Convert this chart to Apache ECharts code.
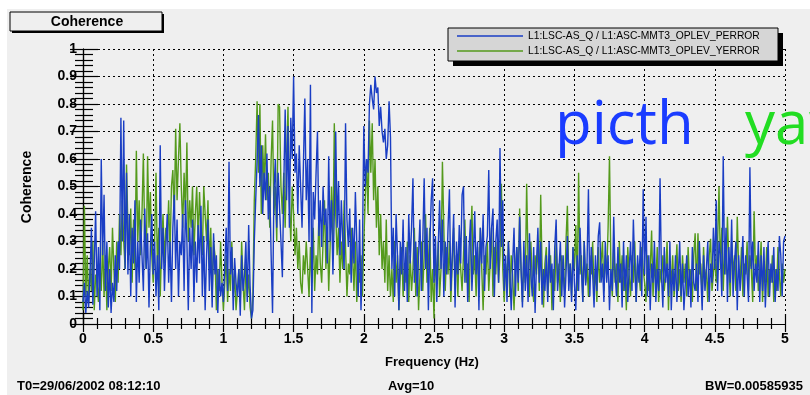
<!DOCTYPE html>
<html>
<head>
<meta charset="utf-8">
<script src="https://cdn.jsdelivr.net/npm/echarts@6/dist/echarts.min.js"></script>
<style>
  html, body { margin: 0; padding: 0; background: #fff; }
  #chart { width: 810px; height: 395px; }
</style>
</head>
<body>
<div id="chart"></div>
<script>
// frequency step of the samples (Hz), x runs 0 .. 5
const freqStep = 0.01;

// coherence LSC-AS_Q / OPLEV_PERROR (blue), one row = 0.1 Hz
const pitchCoh = [
  0.08, 0.15, 0.04, 0.12, 0.06, 0.18, 0.35, 0.07, 0.22, 0.41,
  0.10, 0.28, 0.05, 0.60, 0.25, 0.47, 0.12, 0.30, 0.06, 0.20,
  0.04, 0.15, 0.08, 0.25, 0.12, 0.30, 0.20, 0.75, 0.30, 0.74,
  0.20, 0.55, 0.18, 0.40, 0.10, 0.35, 0.22, 0.45, 0.08, 0.30,
  0.15, 0.38, 0.25, 0.12, 0.42, 0.20, 0.33, 0.06, 0.28, 0.40,
  0.18, 0.30, 0.10, 0.25, 0.05, 0.65, 0.20, 0.35, 0.12, 0.28,
  0.40, 0.15, 0.30, 0.08, 0.35, 0.47, 0.20, 0.38, 0.10, 0.30,
  0.25, 0.40, 0.12, 0.45, 0.30, 0.05, 0.35, 0.20, 0.38, 0.08,
  0.30, 0.15, 0.36, 0.22, 0.43, 0.10, 0.32, 0.05, 0.25, 0.38,
  0.12, 0.28, 0.06, 0.33, 0.18, 0.25, 0.04, 0.20, 0.10, 0.15,
  0.08, 0.22, 0.35, 0.12, 0.59, 0.18, 0.28, 0.05, 0.24, 0.15,
  0.10, 0.20, 0.03, 0.25, 0.12, 0.18, 0.30, 0.08, 0.36, 0.14,
  0.02, 0.05, 0.30, 0.45, 0.59, 0.76, 0.50, 0.65, 0.40, 0.55,
  0.45, 0.62, 0.38, 0.50, 0.25, 0.04, 0.48, 0.60, 0.35, 0.55,
  0.42, 0.30, 0.17, 0.50, 0.78, 0.45, 0.72, 0.35, 0.75, 0.60,
  0.90, 0.55, 0.62, 0.40, 0.65, 0.50, 0.35, 0.58, 0.82, 0.45,
  0.60, 0.30, 0.87, 0.04, 0.48, 0.38, 0.55, 0.70, 0.32, 0.45,
  0.28, 0.50, 0.36, 0.42, 0.22, 0.61, 0.30, 0.45, 0.18, 0.40,
  0.70, 0.35, 0.52, 0.25, 0.45, 0.30, 0.20, 0.73, 0.38, 0.28,
  0.42, 0.15, 0.35, 0.22, 0.48, 0.30, 0.10, 0.38, 0.05, 0.25,
  0.72, 0.50, 0.60, 0.55, 0.80, 0.87, 0.82, 0.78, 0.90, 0.84,
  0.86, 0.72, 0.79, 0.70, 0.66, 0.71, 0.60, 0.65, 0.81, 0.68,
  0.20, 0.35, 0.10, 0.40, 0.25, 0.05, 0.30, 0.18, 0.38, 0.12,
  0.28, 0.08, 0.40, 0.22, 0.35, 0.53, 0.15, 0.30, 0.10, 0.25,
  0.38, 0.12, 0.30, 0.53, 0.20, 0.35, 0.05, 0.28, 0.45, 0.53,
  0.15, 0.32, 0.08, 0.28, 0.45, 0.20, 0.38, 0.10, 0.30, 0.18,
  0.35, 0.49, 0.12, 0.25, 0.40, 0.06, 0.30, 0.18, 0.36, 0.22,
  0.47, 0.50, 0.15, 0.32, 0.08, 0.28, 0.38, 0.12, 0.25, 0.41,
  0.18, 0.30, 0.05, 0.35, 0.22, 0.40, 0.12, 0.28, 0.32, 0.56,
  0.20, 0.35, 0.42, 0.10, 0.30, 0.38, 0.15, 0.64, 0.28, 0.45,
  0.12, 0.25, 0.08, 0.30, 0.18, 0.05, 0.22, 0.35, 0.10, 0.28,
  0.15, 0.39, 0.20, 0.06, 0.30, 0.12, 0.25, 0.08, 0.33, 0.18,
  0.10, 0.28, 0.04, 0.22, 0.35, 0.15, 0.30, 0.07, 0.20, 0.12,
  0.25, 0.08, 0.30, 0.15, 0.22, 0.05, 0.28, 0.38, 0.12, 0.20,
  0.30, 0.10, 0.25, 0.06, 0.18, 0.32, 0.12, 0.22, 0.08, 0.28,
  0.15, 0.05, 0.25, 0.12, 0.35, 0.20, 0.08, 0.30, 0.14, 0.22,
  0.49, 0.10, 0.28, 0.18, 0.06, 0.25, 0.12, 0.32, 0.37, 0.15,
  0.22, 0.08, 0.30, 0.15, 0.25, 0.05, 0.20, 0.12, 0.39, 0.18,
  0.10, 0.28, 0.15, 0.22, 0.06, 0.30, 0.12, 0.25, 0.08, 0.20,
  0.30, 0.12, 0.38, 0.20, 0.08, 0.25, 0.15, 0.30, 0.10, 0.49,
  0.18, 0.39, 0.10, 0.25, 0.05, 0.22, 0.15, 0.30, 0.08, 0.20,
  0.12, 0.53, 0.18, 0.06, 0.28, 0.15, 0.22, 0.10, 0.30, 0.05,
  0.20, 0.12, 0.25, 0.08, 0.18, 0.30, 0.10, 0.22, 0.05, 0.15,
  0.25, 0.10, 0.20, 0.06, 0.28, 0.15, 0.12, 0.22, 0.08, 0.30,
  0.18, 0.05, 0.25, 0.12, 0.20, 0.30, 0.08, 0.22, 0.15, 0.35,
  0.20, 0.45, 0.12, 0.30, 0.25, 0.10, 0.61, 0.18, 0.35, 0.08,
  0.28, 0.15, 0.38, 0.10, 0.22, 0.30, 0.05, 0.25, 0.12, 0.20,
  0.32, 0.10, 0.25, 0.18, 0.08, 0.57, 0.20, 0.30, 0.12, 0.22,
  0.15, 0.30, 0.08, 0.25, 0.12, 0.28, 0.06, 0.20, 0.30, 0.10,
  0.22, 0.15, 0.28, 0.08, 0.20, 0.12, 0.32, 0.25, 0.10, 0.30,
  0.32
];

// coherence LSC-AS_Q / OPLEV_YERROR (green)
const yawCoh = [
  0.05, 0.43, 0.10, 0.25, 0.08, 0.20, 0.12, 0.30, 0.05, 0.18,
  0.15, 0.08, 0.22, 0.12, 0.30, 0.10, 0.25, 0.05, 0.20, 0.28,
  0.12, 0.35, 0.20, 0.08, 0.30, 0.15, 0.40, 0.25, 0.45, 0.30,
  0.20, 0.58, 0.35, 0.25, 0.42, 0.15, 0.38, 0.20, 0.63, 0.30,
  0.45, 0.25, 0.40, 0.62, 0.30, 0.20, 0.61, 0.35, 0.48, 0.25,
  0.15, 0.30, 0.55, 0.20, 0.35, 0.10, 0.28, 0.40, 0.22, 0.35,
  0.30, 0.45, 0.25, 0.50, 0.56, 0.38, 0.71, 0.45, 0.60, 0.73,
  0.50, 0.35, 0.55, 0.40, 0.66, 0.30, 0.45, 0.35, 0.50, 0.25,
  0.40, 0.50, 0.30, 0.48, 0.35, 0.25, 0.50, 0.40, 0.30, 0.45,
  0.20, 0.35, 0.10, 0.30, 0.25, 0.05, 0.20, 0.12, 0.30, 0.15,
  0.05, 0.15, 0.25, 0.08, 0.20, 0.12, 0.30, 0.10, 0.18, 0.05,
  0.12, 0.20, 0.08, 0.30, 0.15, 0.05, 0.22, 0.10, 0.18, 0.06,
  0.02, 0.10, 0.45, 0.60, 0.81, 0.55, 0.80, 0.40, 0.65, 0.50,
  0.69, 0.45, 0.55, 0.35, 0.60, 0.74, 0.40, 0.50, 0.30, 0.80,
  0.79, 0.50, 0.40, 0.55, 0.35, 0.60, 0.79, 0.45, 0.30, 0.50,
  0.40, 0.25, 0.35, 0.20, 0.30, 0.15, 0.11, 0.25, 0.18, 0.30,
  0.20, 0.10, 0.28, 0.15, 0.35, 0.12, 0.25, 0.18, 0.40, 0.22,
  0.15, 0.30, 0.45, 0.20, 0.35, 0.12, 0.28, 0.50, 0.30, 0.73,
  0.40, 0.25, 0.35, 0.15, 0.30, 0.20, 0.45, 0.28, 0.10, 0.22,
  0.18, 0.35, 0.25, 0.12, 0.30, 0.08, 0.20, 0.15, 0.25, 0.10,
  0.30, 0.45, 0.60, 0.40, 0.74, 0.55, 0.73, 0.45, 0.60, 0.35,
  0.50, 0.25, 0.40, 0.20, 0.30, 0.15, 0.38, 0.12, 0.25, 0.10,
  0.20, 0.08, 0.30, 0.15, 0.25, 0.05, 0.18, 0.28, 0.10, 0.22,
  0.15, 0.30, 0.08, 0.25, 0.12, 0.20, 0.35, 0.10, 0.28, 0.05,
  0.18, 0.30, 0.12, 0.25, 0.40, 0.15, 0.22, 0.35, 0.08, 0.20,
  0.02, 0.25, 0.15, 0.30, 0.10, 0.20, 0.59, 0.35, 0.12, 0.28,
  0.18, 0.30, 0.08, 0.22, 0.35, 0.15, 0.25, 0.10, 0.30, 0.20,
  0.12, 0.25, 0.38, 0.15, 0.22, 0.08, 0.30, 0.43, 0.18, 0.25,
  0.10, 0.28, 0.15, 0.35, 0.20, 0.05, 0.25, 0.18, 0.30, 0.12,
  0.22, 0.35, 0.10, 0.28, 0.18, 0.30, 0.15, 0.25, 0.51, 0.20,
  0.08, 0.22, 0.15, 0.30, 0.10, 0.25, 0.18, 0.05, 0.20, 0.28,
  0.12, 0.42, 0.20, 0.08, 0.25, 0.15, 0.51, 0.22, 0.10, 0.30,
  0.15, 0.08, 0.25, 0.18, 0.30, 0.12, 0.47, 0.20, 0.06, 0.22,
  0.28, 0.10, 0.18, 0.25, 0.05, 0.20, 0.12, 0.30, 0.15, 0.22,
  0.08, 0.25, 0.18, 0.12, 0.30, 0.43, 0.15, 0.22, 0.10, 0.28,
  0.20, 0.36, 0.12, 0.55, 0.18, 0.25, 0.08, 0.30, 0.15, 0.22,
  0.10, 0.25, 0.18, 0.30, 0.12, 0.20, 0.08, 0.28, 0.15, 0.22,
  0.30, 0.12, 0.25, 0.18, 0.35, 0.61, 0.20, 0.10, 0.28, 0.15,
  0.22, 0.08, 0.30, 0.15, 0.25, 0.12, 0.20, 0.05, 0.28, 0.18,
  0.10, 0.25, 0.15, 0.30, 0.08, 0.22, 0.18, 0.12, 0.28, 0.20,
  0.15, 0.08, 0.25, 0.12, 0.20, 0.34, 0.10, 0.22, 0.15, 0.28,
  0.08, 0.20, 0.15, 0.25, 0.12, 0.18, 0.30, 0.05, 0.22, 0.15,
  0.25, 0.10, 0.18, 0.29, 0.12, 0.20, 0.08, 0.25, 0.15, 0.22,
  0.10, 0.28, 0.15, 0.20, 0.08, 0.25, 0.33, 0.12, 0.33, 0.18,
  0.22, 0.10, 0.28, 0.15, 0.20, 0.08, 0.25, 0.31, 0.12, 0.18,
  0.25, 0.15, 0.30, 0.50, 0.20, 0.35, 0.12, 0.28, 0.18, 0.39,
  0.22, 0.10, 0.30, 0.18, 0.25, 0.12, 0.39, 0.20, 0.15, 0.28,
  0.10, 0.22, 0.18, 0.30, 0.12, 0.25, 0.20, 0.08, 0.41, 0.18,
  0.25, 0.12, 0.20, 0.30, 0.08, 0.22, 0.15, 0.28, 0.10, 0.20,
  0.15, 0.25, 0.08, 0.20, 0.12, 0.28, 0.18, 0.10, 0.22, 0.15,
  0.20
];

const seriesNames = [
  'L1:LSC-AS_Q / L1:ASC-MMT3_OPLEV_PERROR',
  'L1:LSC-AS_Q / L1:ASC-MMT3_OPLEV_YERROR'
];
const xTicks = [0, 0.5, 1, 1.5, 2, 2.5, 3, 3.5, 4, 4.5, 5];

const toPairs = arr => arr.map((v, i) => [+(i * freqStep).toFixed(2), v]);

const bold = 'bold 13px "Liberation Sans", Arial, sans-serif';
const blue = '#1a3ec4';
const green = '#549a1c';

const chart = echarts.init(document.getElementById('chart'));

const tickAxis = {
  min: 0,
  axisLine: { show: true, lineStyle: { color: '#000', width: 1.2 } },
  axisTick: { show: true, inside: true, lineStyle: { color: '#000', width: 1.2 } },
  minorTick: { show: true, splitNumber: 5, lineStyle: { color: '#000', width: 1.2 } },
  splitLine: { show: false },
  axisLabel: { show: false }
};

const option = {
  backgroundColor: '#efefef',
  animation: false,
  grid: { left: 83, right: 25, top: 49, bottom: 71 },
  legend: {
    data: seriesNames,
    orient: 'vertical',
    left: 452,
    top: 26,
    z: 20,
    padding: 5,
    itemWidth: 66,
    itemHeight: 1.5,
    itemGap: 5,
    icon: 'rect',
    textStyle: { fontSize: 10.3, color: '#000', fontFamily: '"Liberation Sans", Arial' }
  },
  xAxis: [
    Object.assign({}, tickAxis, {
      type: 'value', max: 5, interval: 0.5, position: 'bottom',
      axisTick: { show: true, inside: true, length: 10, lineStyle: { color: '#000', width: 1.2 } },
      minorTick: { show: true, splitNumber: 5, length: 6, lineStyle: { color: '#000', width: 1.2 } },
      splitLine: { show: true, lineStyle: { color: '#000', type: [2, 3], width: 1 } },
      axisLabel: {
        show: true, margin: 8, color: '#000', fontSize: 14, fontWeight: 'bold',
        fontFamily: '"Liberation Sans", Arial',
        formatter: v => xTicks.includes(v) ? String(v) : ''
      }
    }),
    Object.assign({}, tickAxis, {
      type: 'value', max: 5, interval: 0.5, position: 'top',
      axisTick: { show: true, inside: true, length: 8, lineStyle: { color: '#000', width: 1.2 } },
      minorTick: { show: true, splitNumber: 5, length: 5, lineStyle: { color: '#000', width: 1.2 } }
    })
  ],
  yAxis: [
    Object.assign({}, tickAxis, {
      type: 'value', max: 1, interval: 0.1, position: 'left',
      axisTick: { show: true, inside: true, length: 15, lineStyle: { color: '#000', width: 1.2 } },
      minorTick: { show: true, splitNumber: 5, length: 10, lineStyle: { color: '#000', width: 1.2 } },
      splitLine: { show: true, lineStyle: { color: '#000', type: [2, 3], width: 1 } },
      axisLabel: {
        show: true, margin: 6, color: '#000', fontSize: 14, fontWeight: 'bold',
        fontFamily: '"Liberation Sans", Arial',
        formatter: v => (Math.abs(v - Math.round(v)) < 1e-9 ? String(Math.round(v)) : v.toFixed(1))
      }
    }),
    Object.assign({}, tickAxis, {
      type: 'value', max: 1, interval: 0.1, position: 'right',
      axisTick: { show: true, inside: true, length: 13, lineStyle: { color: '#000', width: 1.2 } },
      minorTick: { show: true, splitNumber: 5, length: 8, lineStyle: { color: '#000', width: 1.2 } }
    })
  ],
  series: [
    {
      name: seriesNames[1], type: 'line', showSymbol: false, z: 2,
      data: toPairs(yawCoh),
      itemStyle: { color: green },
      lineStyle: { color: green, width: 1.4 }
    },
    {
      name: seriesNames[0], type: 'line', showSymbol: false, z: 3,
      data: toPairs(pitchCoh),
      itemStyle: { color: blue },
      lineStyle: { color: blue, width: 1.4 }
    }
  ],
  graphic: [
    // white scan border
    { type: 'rect', shape: { x: 0, y: 0, width: 810, height: 9 }, style: { fill: '#fff' }, z: -10 },
    { type: 'rect', shape: { x: 0, y: 0, width: 7, height: 395 }, style: { fill: '#fff' }, z: -10 },
    // title box
    { type: 'rect', shape: { x: 12, y: 14, width: 152, height: 19 }, style: { fill: '#000' }, z: 10 },
    { type: 'rect', shape: { x: 10, y: 12, width: 152, height: 19 }, style: { fill: '#efefef', stroke: '#000', lineWidth: 1 }, z: 11 },
    { type: 'text', x: 87, y: 22, z: 12, style: { text: 'Coherence', font: 'bold 14px "Liberation Sans", Arial', fill: '#000', align: 'center', verticalAlign: 'middle' } },
    // legend box
    { type: 'rect', shape: { x: 453, y: 33, width: 330, height: 33 }, style: { fill: '#000' }, z: 10 },
    { type: 'rect', shape: { x: 448, y: 28, width: 330, height: 33 }, style: { fill: '#d6d6d6', stroke: '#000', lineWidth: 1 }, z: 11 },
    // axis titles
    { type: 'text', x: 27, y: 187, rotation: Math.PI / 2, z: 12, style: { text: 'Coherence', font: 'bold 14px "Liberation Sans", Arial', fill: '#000', align: 'center', verticalAlign: 'middle' } },
    { type: 'text', x: 432, y: 362, z: 12, style: { text: 'Frequency (Hz)', font: bold, fill: '#000', align: 'center', verticalAlign: 'middle' } },
    // footer
    { type: 'text', x: 17, y: 386, z: 12, style: { text: 'T0=29/06/2002 08:12:10', font: bold, fill: '#000', verticalAlign: 'middle' } },
    { type: 'text', x: 388, y: 386, z: 12, style: { text: 'Avg=10', font: bold, fill: '#000', verticalAlign: 'middle' } },
    { type: 'text', x: 705, y: 386, z: 12, style: { text: 'BW=0.00585935', font: bold, fill: '#000', verticalAlign: 'middle' } },
    // hand-written annotations
    { type: 'text', x: 555, y: 127, z: 12, style: { text: 'picth', font: '60px "Open Sans", sans-serif', fill: '#1a3cff', verticalAlign: 'middle' } },
    { type: 'text', x: 745, y: 127, z: 12, style: { text: 'yaw', font: '60px "Open Sans", sans-serif', fill: '#22dd22', verticalAlign: 'middle' } }
  ]
};

chart.setOption(option);
</script>
</body>
</html>
